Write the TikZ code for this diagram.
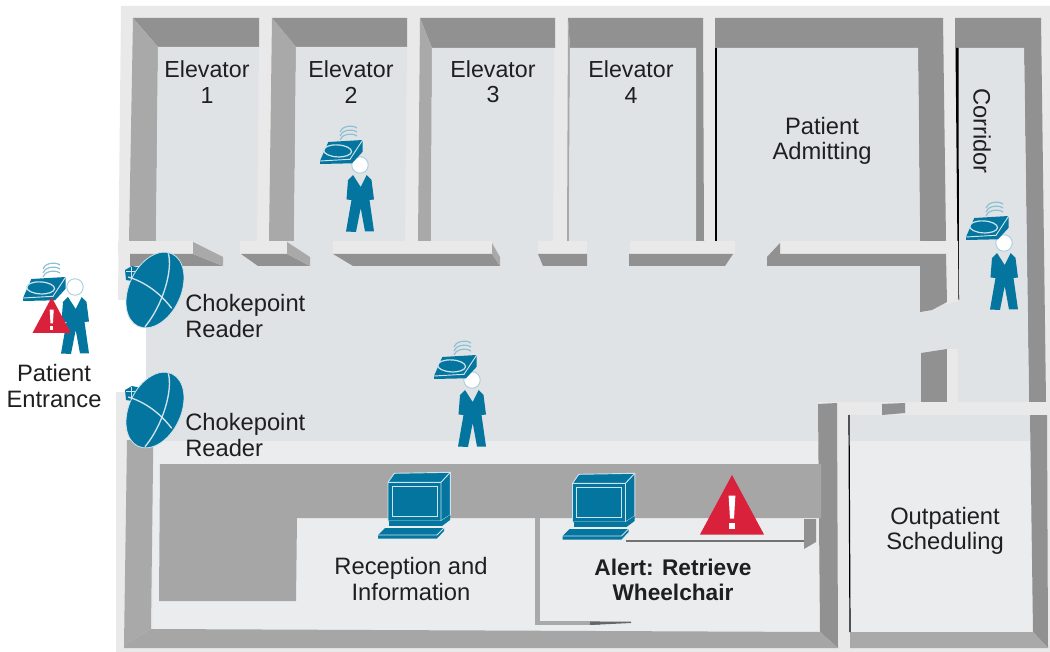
\documentclass[tikz,border=0pt]{standalone}
\usepackage{fontspec}
\setmainfont{Liberation Sans}
\usetikzlibrary{positioning}
\definecolor{outerColor}{HTML}{E9E9E9}
\definecolor{floorColor}{HTML}{E0E3E6}
\definecolor{floorLight}{HTML}{EAECED}
\definecolor{wallDark}{HTML}{919191}
\definecolor{wallSide}{HTML}{A9A9A9}
\definecolor{bandColor}{HTML}{A6A6A6}
\definecolor{iconBlue}{HTML}{04759F}
\definecolor{iconPale}{HTML}{CFE3EC}
\definecolor{alertRed}{HTML}{D9213B}
\colorlet{labelColor}{black!88}
\tikzstyle{label}=[align=center, text=labelColor, font=\fontsize{17.8}{19}\selectfont, inner sep=0pt]
\tikzstyle{labelElev}=[label, font=\fontsize{17.4}{19}\selectfont]
\tikzstyle{labelLeft}=[label, align=left, anchor=west]
\tikzstyle{labelBold}=[label, font=\fontsize{17}{19}\selectfont\bfseries]
\tikzstyle{wallTop}=[fill=wallDark]
\tikzstyle{wallLeft}=[fill=wallSide]
\tikzstyle{roomFloor}=[fill=floorColor]
\tikzstyle{paleLine}=[draw=iconPale, line width=0.7pt]
\tikzset{
  personIcon/.pic={
    \fill[iconBlue] (-7,10) -- (-12,15) -- (-13.5,34.5) -- (-8.5,35) -- (-14,66.5) -- (-4,67) -- (0.7,43)
      -- (5,66.5) -- (14,66.5) -- (9.5,35) -- (14,34.5) -- (11.5,15) -- (6.7,10) -- (0.7,22) -- cycle;
    \draw[fill=white, draw=iconBlue!35, line width=0.7pt] (0,0) circle (6.2pt);
  },
  tagIcon/.pic={
    \foreach \yShift in {0,-4,-8}
      \draw[draw=iconBlue!45!white, line width=0.9pt] (20,-21+\yShift) .. controls (21,-26+\yShift) and (31,-29+\yShift) .. (37,-25+\yShift);
    \fill[iconBlue] (0,0) -- (8.3,-19) -- (42.7,-21) -- (42.7,-9.3) -- (32,2.3) -- (0,3) -- cycle;
    \draw[paleLine] (0,0) -- (30,-1.7) -- (42.7,-21);
    \draw[paleLine, line width=0.9pt, rotate=-3] (17,-11) ellipse [x radius=10.5pt, y radius=4.5pt];
  },
  alertIcon/.pic={
    \fill[alertRed] (-32,0) -- (0,-59.5) -- (32,0) -- cycle;
    \fill[white] (-3.4,-39) -- (3.4,-39) -- (2,-16) -- (-2,-16) -- cycle;
    \fill[white] (-2.6,-11.5) rectangle (2.6,-5.5);
  },
  readerIcon/.pic={
    \fill[iconBlue] (-30,-20) -- (-23,-24) -- (-14,-22) -- (-18,-8) -- (-29,-10) -- cycle;
    \draw[paleLine] (-29,-19) -- (-19,-19) (-24,-23) -- (-24,-10);
    \draw[fill=iconBlue, draw=iconPale, line width=0.6pt, rotate=-25] (0,0) ellipse [x radius=19.5pt, y radius=30pt];
    \draw[draw=iconPale, line width=1pt] (13.3,-36.7) .. controls (18,-20) and (8,15) .. (-10,36.7);
    \draw[draw=iconPale, line width=1pt] (-26.7,-13) .. controls (-10,-8) and (5,3) .. (16.7,18.3);
  },
  computerIcon/.pic={
    \fill[iconBlue, paleLine] (0,0) -- (0,-38.7) -- (6.3,-47.7) -- (62.3,-48.7) -- (62.3,-6) -- (53,0) -- cycle;
    \draw[paleLine] (0,-38.7) -- (53,-38.7) -- (62.3,-48.7) (53,-38.7) -- (53,0);
    \draw[paleLine] (4,-35) rectangle (49,-4.5);
    \fill[iconBlue] (1,0) rectangle (54,5);
    \fill[iconBlue] (53,0) -- (62,-6) -- (62,-1) -- (54,5) -- cycle;
    \fill[iconBlue] (-10,14) -- (-3,7) -- (56,7) -- (56,10) -- (49,17.5) -- (-10,17.5) -- cycle;
    \draw[paleLine] (-10,14) -- (49,14) -- (56,7);
  }
}
\begin{document}
\begin{tikzpicture}[x=0.75pt, y=-0.75pt]
  \useasboundingbox (0,0) rectangle (1050,652);
  \fill[outerColor] (121,6) -- (1050,6) -- (1050,652) -- (116,652) -- (116,392) -- (146,392) -- (146,300) -- (118,300) -- cycle;
  \fill[roomFloor] (146,241) rectangle (947,402);
  \fill[roomFloor] (146,402) rectangle (818,441);
  \fill[roomFloor] (947,302) rectangle (1030,402);
  \fill[floorLight] (153,441) rectangle (820,632);
  \fill[floorLight] (146,441) rectangle (153,464);

  \fill[wallTop] (133,18) -- (259,18) -- (259,47) -- (158,47) -- cycle;
  \fill[wallLeft] (133,18) -- (158,47) -- (156,241) -- (129,241) -- cycle;
  \fill[roomFloor] (158,47) -- (259,47) -- (257,241) -- (156,241) -- cycle;
  \fill[wallTop] (272,18) -- (407,18) -- (407,47) -- (296,47) -- cycle;
  \fill[wallLeft] (272,18) -- (296,47) -- (294,241) -- (269,241) -- cycle;
  \fill[roomFloor] (296,47) -- (407,47) -- (405,241) -- (294,241) -- cycle;
  \fill[wallTop] (420,18) -- (555,18) -- (555,48) -- (432,48) -- cycle;
  \fill[wallLeft] (420,18) -- (432,48) -- (431,241) -- (418,241) -- cycle;
  \fill[roomFloor] (432,48) -- (554,48) -- (553,241) -- (431,241) -- cycle;
  \fill[wallTop] (568,18) -- (703,18) -- (704,241) -- (696,241) -- (696,48) -- (570,48) -- cycle;
  \fill[wallLeft] (568,18) -- (570,48) -- (569,241) -- (567,241) -- cycle;
  \fill[roomFloor] (570,48) -- (696,48) -- (696,241) -- (569,241) -- cycle;
  \fill[wallTop] (715,18) -- (943,18) -- (946,241) -- (920,241) -- (918,48) -- (715,48) -- cycle;
  \fill[roomFloor] (716,48) -- (918,48) -- (920,241) -- (716,241) -- cycle;
  \draw[black, line width=0.9pt] (716,48) -- (716,241);
  \fill[wallTop] (955,18) -- (1041,18) -- (1046,402) -- (1029,402) -- (1024,48) -- (955,48) -- cycle;
  \fill[roomFloor] (958,48) -- (1024,48) -- (1029,402) -- (958,402) -- cycle;
  \fill[black] (955.5,48) -- (958.5,48) -- (959,300) -- (958,300) -- cycle;

  \fill[outerColor] (118,241) rectangle (193,254);
  \fill[outerColor] (240,241) rectangle (287,254);
  \fill[outerColor] (333,241) rectangle (492,254);
  \fill[outerColor] (538,241) rectangle (587,254);
  \fill[outerColor] (630,241) rectangle (735,254);
  \fill[outerColor] (780,241) rectangle (946,254);
  \fill[outerColor] (945,241) -- (958,241) -- (958.5,300) -- (945,305) -- cycle;

  \fill[wallTop] (130,254) -- (193,254) -- (223,266) -- (130,266) -- cycle;
  \fill[wallLeft] (193,242) -- (223,257) -- (223,266) -- (193,254) -- cycle;
  \fill[wallTop] (241,254) -- (287,254) -- (310,266) -- (258,266) -- cycle;
  \fill[wallLeft] (287,242) -- (310,257) -- (310,266) -- (287,254) -- cycle;
  \fill[wallTop] (333,254) -- (492,254) -- (500,266) -- (353,266) -- cycle;
  \fill[wallLeft] (492,243) -- (500,257) -- (500,266) -- (492,254) -- cycle;
  \fill[wallTop] (538,254) -- (587,254) -- (587,266) -- (543,266) -- cycle;
  \fill[wallTop] (629,254) -- (733,254) -- (725,266) -- (629,266) -- cycle;
  \fill[wallTop] (767,257) -- (780,243) -- (780,254) -- (946,254) -- (947,302) -- (932,310) -- (920,312) -- (920,266) -- (767,266) -- cycle;
  \fill[wallTop] (921,353) -- (947,349) -- (947,402) -- (921,402) -- cycle;
  \fill[outerColor] (947,349) rectangle (958,402);

  \fill[outerColor] (837,402) rectangle (1050,414);
  \fill[wallTop] (882,404) -- (905,403) -- (905,413) -- (882,415) -- cycle;
  \fill[roomFloor] (850,415) -- (1030,415) -- (1033,632) -- (850,632) -- cycle;
  \fill[floorLight] (850,441) -- (1031,441) -- (1033,632) -- (850,632) -- cycle;
  \fill[wallTop] (1030,415) -- (1047,415) -- (1048,648) -- (1033,632) -- cycle;
  \fill[wallLeft] (850,632) -- (1033,632) -- (1048,648) -- (850,648) -- cycle;
  \draw[black, line width=0.9pt] (849,415) -- (850,632);

  \fill[wallTop] (818,404) -- (837,403) -- (838,648) -- (820,632) -- cycle;
  \fill[bandColor] (160,464) -- (821,464) -- (821,518) -- (297,518) -- (296,601) -- (159,601) -- cycle;
  \fill[wallLeft] (535,518) rectangle (540,624);
  \fill[wallLeft] (535,621) rectangle (600,625);
  \fill[black!60] (590,621.5) -- (631,621.5) -- (631,623) -- (590,625) -- cycle;
  \fill[wallTop] (804,519) -- (816,519) -- (816,542) -- (804,549) -- cycle;
  \draw[black!55, line width=1pt] (626,541) -- (804,541);
  \fill[wallLeft] (127,440) -- (153,440) -- (153,463) -- (151,629) -- (124,645) -- cycle;
  \fill[bandColor] (151,629) -- (820,632) -- (838,648) -- (124,648) -- (124,645) -- cycle;

  \node(elevOne) [labelElev] at (207,82) {Elevator\\1};
  \node(elevTwo) [labelElev] at (351,82) {Elevator\\2};
  \node(elevThree) [labelElev] at (493,82) {Elevator\\3};
  \node(elevFour) [labelElev] at (631,82) {Elevator\\4};
  \node(admitting) [label] at (822,141) {Patient\\Admitting};
  \node(corridor) [label, rotate=-90] at (982,131) {Corridor};
  \node(entrance) [label] at (54,386) {Patient\\Entrance};
  \node(readerTextA) [labelLeft] at (185,316) {Chokepoint\\Reader};
  \node(readerTextB) [labelLeft] at (185,435) {Chokepoint\\Reader};
  \node(reception) [label] at (411,579) {Reception and\\Information};
  \node(alert) [labelBold] at (673,580) {Alert: Retrieve\\Wheelchair};
  \node(outpatient) [label] at (945,531) {Outpatient\\Scheduling};

  \pic at (360,165) {personIcon};
  \pic at (320,161) {tagIcon};
  \pic at (472,380) {personIcon};
  \pic at (434,376) {tagIcon};
  \pic at (1004,243) {personIcon};
  \pic at (966,237) {tagIcon};
  \pic at (75,287) {personIcon};
  \pic at (23,298) {tagIcon};
  \pic[scale=0.6] at (51.7,333) {alertIcon};
  \pic at (732,534.5) {alertIcon};
  \pic at (155,290) {readerIcon};
  \pic at (155,410) {readerIcon};
  \pic at (388,521) {computerIcon};
  \pic at (572.5,522) {computerIcon};
\end{tikzpicture}
\end{document}
